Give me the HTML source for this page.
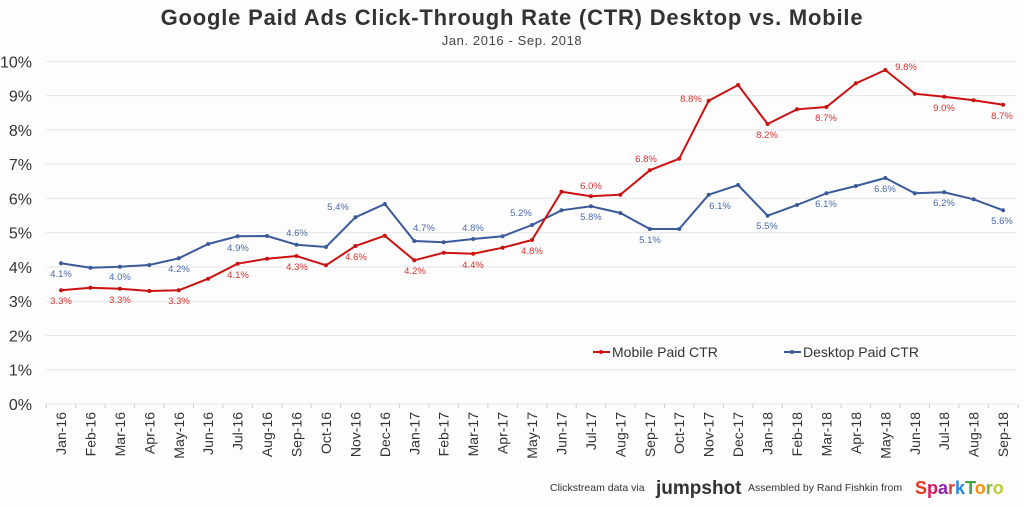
<!DOCTYPE html>
<html><head><meta charset="utf-8"><style>
html,body{margin:0;padding:0;background:#fdfdfd;}
svg{display:block;font-family:"Liberation Sans",sans-serif;}
</style></head><body>
<svg id="s" width="1024" height="506" viewBox="0 0 1024 506">
<rect width="1024" height="506" fill="#fdfdfd"/>
<text x="512" y="25" text-anchor="middle" font-size="22" font-weight="bold" letter-spacing="0.8" fill="#333">Google Paid Ads Click-Through Rate (CTR) Desktop vs. Mobile</text>
<text x="512" y="45" text-anchor="middle" font-size="13" letter-spacing="0.6" fill="#444">Jan. 2016 - Sep. 2018</text>
<g id="g"></g>
<line x1="593" y1="352" x2="610" y2="352" stroke="#cc1111" stroke-width="2"/><circle cx="601" cy="352" r="2" fill="#cc1111"/>
<text x="612" y="357" font-size="14" fill="#333">Mobile Paid CTR</text>
<line x1="784" y1="352" x2="801" y2="352" stroke="#3a5a9a" stroke-width="2"/><circle cx="792" cy="352" r="2" fill="#3a5a9a"/>
<text x="803" y="357" font-size="14" fill="#333">Desktop Paid CTR</text>
<text x="550" y="491" font-size="10.5" fill="#333">Clickstream data via</text>
<text x="656" y="494" font-size="19" font-weight="bold" fill="#333">jumpshot</text>
<text x="748" y="491" font-size="10.5" fill="#333">Assembled by Rand Fishkin from</text>
<text x="915" y="494" font-size="18" font-weight="bold"><tspan fill="#e8341c">S</tspan><tspan fill="#d81b60">p</tspan><tspan fill="#8e24aa">a</tspan><tspan fill="#e53935">r</tspan><tspan fill="#1e88e5">k</tspan><tspan fill="#43a047">T</tspan><tspan fill="#fb8c00">o</tspan><tspan fill="#7cb342">r</tspan><tspan fill="#c0ca33">o</tspan></text>
</svg>
<script>
var g=document.getElementById('g'),h='';
for(var i=0;i<=10;i++){var y=404-i*34.27;
h+='<line x1="46" x2="1016" y1="'+y+'" y2="'+y+'" stroke="#e6e6e6" stroke-width="1"/>';
h+='<text x="32" y="'+(y+6)+'" text-anchor="end" font-size="16" fill="#333">'+i+'%</text>';}
var x0=61,dx=29.44;
for(var i=0;i<=33;i++){var x=x0-dx/2+i*dx;h+='<line x1="'+x+'" x2="'+x+'" y1="404" y2="408" stroke="#ccc"/>';}
var m=['Jan','Feb','Mar','Apr','May','Jun','Jul','Aug','Sep','Oct','Nov','Dec'];
for(var i=0;i<33;i++){var x=x0+i*dx,lab=m[i%12]+'-'+(16+Math.floor(i/12));
h+='<text transform="translate('+(x+5)+',412) rotate(-90)" text-anchor="end" font-size="14" fill="#333">'+lab+'</text>';}
var B=[263.3,267.7,266.7,265,258.3,244,236.3,236,244.7,247,217.3,204,241,242.3,239,236.3,225,210.3,206.3,213,229,229,194.7,185,215.7,205,193.3,186,178,193.3,192.3,199.3,210.3];
var R=[290.3,287.7,288.7,291,290.3,278.7,263.7,258.7,256,265.3,246,235.7,260.3,252.7,253.7,247.7,240,191.7,196.3,194.7,170.3,158.7,100.7,85,124,109.3,107,83.3,70,93.7,96.7,100.3,104.7];
function line(a,c){var p=a.map(function(y,i){return (x0+i*dx).toFixed(1)+','+y}).join(' ');
var s='<polyline points="'+p+'" fill="none" stroke="'+c+'" stroke-width="2"/>';
a.forEach(function(y,i){s+='<circle cx="'+(x0+i*dx)+'" cy="'+y+'" r="2" fill="'+c+'"/>';});return s;}
h+=line(B,'#3a5a9a')+line(R,'#cc1111');
var BL=[[0,'4.1%',61,277],[2,'4.0%',120,280],[4,'4.2%',179,272],[6,'4.9%',238,251],[8,'4.6%',297,236],[10,'5.4%',338,210],[12,'4.7%',424,231],[14,'4.8%',473,231],[16,'5.2%',521,216],[18,'5.8%',591,220],[20,'5.1%',650,243],[22,'6.1%',720,209],[24,'5.5%',767,229],[26,'6.1%',826,207],[28,'6.6%',885,192],[30,'6.2%',944,206],[32,'5.6%',1002,224]];
BL.forEach(function(l){h+='<text x="'+l[2]+'" y="'+l[3]+'" text-anchor="middle" font-size="9.5" fill="#4a68a8">'+l[1]+'</text>';});
var RL=[['3.3%',61,304],['3.3%',120,303],['3.3%',179,304],['4.1%',238,278],['4.3%',297,270],['4.6%',356,260],['4.2%',415,274],['4.4%',473,268],['4.8%',532,254],['6.0%',591,189],['6.8%',646,162],['8.8%',691,102],['8.2%',767,138],['8.7%',826,121],['9.8%',906,70],['9.0%',944,111],['8.7%',1002,119]];
RL.forEach(function(l){h+='<text x="'+l[1]+'" y="'+l[2]+'" text-anchor="middle" font-size="9.5" fill="#d93030">'+l[0]+'</text>';});
g.innerHTML=h;
</script>
</body></html>
